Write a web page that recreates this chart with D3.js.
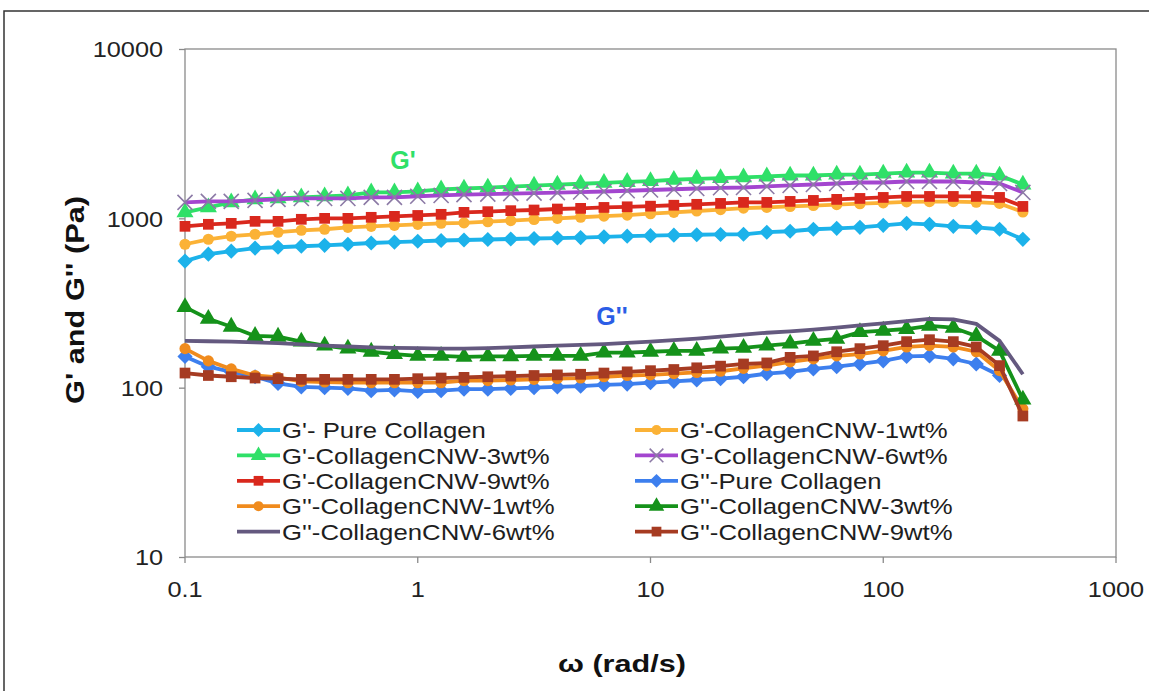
<!doctype html>
<html lang='en'>
<head>
<meta charset='UTF-8'>
<title>G' and G'' vs frequency</title>
<style>
  body { margin: 0; background: #fff; }
  svg { display: block; }
  .tick text { font-family: 'Liberation Sans', Arial, sans-serif; fill: #222; }
</style>
</head>
<body>
<script src='https://d3js.org/d3.v7.min.js'></script>
<script>
  // angular frequency (rad/s)
  const omega = [0.1, 0.126, 0.158, 0.2, 0.251, 0.316, 0.398, 0.501, 0.631, 0.794,
    1, 1.26, 1.58, 2, 2.51, 3.16, 3.98, 5.01, 6.31, 7.94,
    10, 12.6, 15.8, 20, 25.1, 31.6, 39.8, 50.1, 63.1, 79.4,
    100, 126, 158, 200, 251, 316, 398]

  // storage modulus G' (Pa)
  const gpPure = [559, 614, 640, 667, 675, 684, 693, 703, 715, 723, 732, 740, 745, 750, 755, 760, 765, 770, 778, 785,
    790, 795, 800, 803, 805, 828, 839, 862, 873, 885, 909, 934, 922, 897, 885, 862, 752]
  const gp1 = [703, 752, 784, 805, 828, 850, 862, 885, 897, 909, 922, 935, 940, 955, 970, 985, 1000, 1015, 1030, 1045,
    1065, 1085, 1105, 1125, 1150, 1160, 1175, 1190, 1205, 1220, 1235, 1250, 1255, 1255, 1245, 1225, 1090]
  const gp3 = [1085, 1161, 1242, 1294, 1311, 1329, 1347, 1366, 1422, 1422, 1441, 1481, 1500, 1520, 1540, 1560, 1580, 1600, 1620, 1640,
    1660, 1690, 1710, 1730, 1744, 1767, 1790, 1790, 1814, 1814, 1839, 1864, 1864, 1839, 1839, 1790, 1584]
  const gp6 = [1242, 1259, 1259, 1276, 1294, 1311, 1311, 1311, 1329, 1329, 1350, 1365, 1380, 1390, 1400, 1410, 1420, 1430, 1440, 1455,
    1470, 1485, 1500, 1515, 1521, 1543, 1564, 1584, 1606, 1628, 1628, 1650, 1650, 1650, 1628, 1606, 1422]
  const gp9 = [897, 922, 934, 960, 960, 987, 1000, 1000, 1014, 1027, 1040, 1056, 1085, 1095, 1110, 1120, 1135, 1145, 1160, 1170,
    1180, 1195, 1210, 1225, 1242, 1242, 1259, 1276, 1294, 1311, 1329, 1347, 1347, 1347, 1347, 1329, 1176]

  // loss modulus G'' (Pa)
  const gppPure = [153, 133, 124, 116, 106, 101, 100, 99, 96, 97, 95, 96, 98, 98, 99, 100, 101, 102, 104, 105,
    107, 109, 111, 113, 116, 121, 124, 129, 133, 138, 144, 153, 154, 148, 138, 118, null]
  const gpp1 = [170, 144, 129, 118, 115, 109, 108, 107, 107, 107, 107, 107, 110, 110, 111, 112, 113, 114, 116, 118,
    119, 121, 123, 125, 130, 135, 142, 148, 154, 158, 165, 174, 177, 174, 163, 126, 75]
  const gpp3 = [299, 255, 229, 202, 200, 187, 177, 170, 163, 158, 154, 154, 152, 153, 153, 154, 154, 154, 161, 161,
    163, 165, 165, 170, 172, 177, 182, 189, 194, 213, 217, 222, 232, 226, 202, 165, 85]
  const gpp6 = [189, 188, 187, 185, 183, 180, 177, 175, 173, 172, 171, 170, 170, 171, 173, 175, 177, 179, 181, 184,
    187, 191, 195, 200, 206, 211, 215, 220, 226, 233, 240, 247, 255, 253, 238, 189, 120]
  const gpp9 = [122, 118, 116, 114, 113, 112, 112, 112, 112, 112, 113, 114, 115, 116, 117, 118, 119, 120, 122, 124,
    126, 128, 131, 134, 138, 140, 151, 154, 163, 170, 177, 187, 192, 187, 174, 135, 68]

  const names = ["G'- Pure Collagen", "G'-CollagenCNW-1wt%", "G'-CollagenCNW-3wt%", "G'-CollagenCNW-6wt%",
    "G'-CollagenCNW-9wt%", "G''-Pure Collagen", "G''-CollagenCNW-1wt%", "G''-CollagenCNW-3wt%",
    "G''-CollagenCNW-6wt%", "G''-CollagenCNW-9wt%"]
  const yTicks = [10, 100, 1000, 10000]
  const xTicks = [0.1, 1, 10, 100, 1000]

  const series = [
    { name: names[0], values: gpPure, color: '#1cb2ea', marker: 'diamond' },
    { name: names[1], values: gp1, color: '#fbb236', marker: 'circle' },
    { name: names[2], values: gp3, color: '#2fe068', marker: 'triangle' },
    { name: names[3], values: gp6, color: '#a346cf', marker: 'x', mcolor: '#8c7aa6' },
    { name: names[4], values: gp9, color: '#d9281d', marker: 'square' },
    { name: names[5], values: gppPure, color: '#3d7fee', marker: 'diamond' },
    { name: names[6], values: gpp1, color: '#f08b1d', marker: 'circle' },
    { name: names[7], values: gpp3, color: '#15921a', marker: 'triangle' },
    { name: names[8], values: gpp6, color: '#64597f', marker: 'none' },
    { name: names[9], values: gpp9, color: '#a63b22', marker: 'square' }
  ]

  const W = 1149, H = 691
  const pLeft = 185, pRight = 1116, pTop = 49, pBottom = 557
  const font = "'Liberation Sans', Arial, sans-serif"
  const sx = 1.15 // the original picture is a little stretched sideways
  const lsx = 1.12

  const svg = d3.select('body').append('svg')
    .attr('width', W)
    .attr('height', H)

  // outer frame
  svg.append('rect')
    .attr('x', 4).attr('y', 11)
    .attr('width', 1160).attr('height', 700)
    .attr('fill', 'none')
    .attr('stroke', '#333')
    .attr('stroke-width', 1.5)

  const x = d3.scaleLog().domain([0.1, 1000]).range([pLeft, pRight])
  const y = d3.scaleLog().domain([10, 10000]).range([pBottom, pTop])

  // plot box
  svg.append('rect')
    .attr('x', pLeft).attr('y', pTop)
    .attr('width', pRight - pLeft).attr('height', pBottom - pTop)
    .attr('fill', 'none')
    .attr('stroke', '#8a8a8a')
    .attr('stroke-width', 1.3)

  const yAxis = svg.append('g')
    .attr('transform', `translate(${pLeft},0)`)
    .call(d3.axisLeft(y).tickValues(yTicks).tickFormat(d3.format('d')).tickSize(6))
  yAxis.select('.domain').remove()
  yAxis.selectAll('line').attr('stroke', '#8a8a8a').attr('stroke-width', 1.3)
  yAxis.selectAll('text')
    .attr('font-size', 22)
    .attr('x', -22 / sx)
    .attr('dy', '0.36em')
    .attr('transform', `scale(${sx},1)`)

  const xAxis = svg.append('g')
    .attr('transform', `translate(0,${pBottom})`)
    .call(d3.axisBottom(x).tickValues(xTicks).tickFormat(d => d < 1 ? '0.1' : d3.format('d')(d)).tickSize(6))
  xAxis.select('.domain').remove()
  xAxis.selectAll('line').attr('stroke', '#8a8a8a').attr('stroke-width', 1.3)
  // keep x labels centred on their ticks after the horizontal stretch
  xAxis.selectAll('.tick').each(function(d) {
    const g = d3.select(this)
    g.attr('transform', null)
    g.select('line').attr('x1', x(d)).attr('x2', x(d))
    g.select('text')
      .attr('font-size', 22)
      .attr('x', x(d) / sx)
      .attr('y', 40)
      .attr('dy', null)
      .attr('transform', `scale(${sx},1)`)
  })

  const marker = function(sel, s, size) {
    const col = s.mcolor || s.color
    if (s.marker === 'diamond') {
      sel.append('path').attr('d', d3.symbol(d3.symbolSquare, size)()).attr('transform', 'rotate(45)').attr('fill', col)
    } else if (s.marker === 'circle') {
      sel.append('path').attr('d', d3.symbol(d3.symbolCircle, size * 0.85)()).attr('fill', col)
    } else if (s.marker === 'triangle') {
      sel.append('path').attr('d', d3.symbol(d3.symbolTriangle, size * 1.1)()).attr('fill', col)
    } else if (s.marker === 'square') {
      sel.append('path').attr('d', d3.symbol(d3.symbolSquare, size)()).attr('fill', col)
    } else if (s.marker === 'x') {
      sel.append('path').attr('d', d3.symbol(d3.symbolTimes, size * 1.3)()).attr('fill', 'none')
        .attr('stroke', col).attr('stroke-width', 1.6)
    }
  }

  const line = d3.line()
    .defined(d => d[1] != null)
    .x(d => x(d[0]))
    .y(d => y(d[1]))

  series.forEach(s => {
    const pts = omega.map((w, i) => [w, s.values[i]])
    const g = svg.append('g')
    g.append('path')
      .attr('d', line(pts))
      .attr('fill', 'none')
      .attr('stroke', s.color)
      .attr('stroke-width', 3.8)
      .attr('stroke-linejoin', 'round')
    if (s.marker !== 'none') {
      g.selectAll('g.m')
        .data(pts.filter(d => d[1] != null))
        .enter()
        .append('g')
        .attr('class', 'm')
        .attr('transform', d => `translate(${x(d[0])},${y(d[1])})`)
        .each(function() { marker(d3.select(this), s, 115) })
    }
  })

  /********************  legend ******************/
  const legend = svg.append('g')
  series.forEach((s, i) => {
    const col = i % 2
    const row = Math.floor(i / 2)
    const lx = col === 0 ? 237 : 635
    const ly = 430 + row * 25.4
    const g = legend.append('g').attr('transform', `translate(${lx},${ly})`)
    g.append('line')
      .attr('x1', 0).attr('x2', 43)
      .attr('stroke', s.color)
      .attr('stroke-width', 3.8)
    const m = g.append('g').attr('transform', 'translate(21.5,0)')
    marker(m, s, 95)
    g.append('text')
      .attr('x', 45 / lsx)
      .attr('dy', '0.36em')
      .attr('transform', `scale(${lsx},1)`)
      .attr('font-family', font)
      .attr('font-size', 23)
      .attr('fill', '#1e1e1e')
      .text(s.name)
  })

  /********************  annotations & titles ******************/
  svg.append('text')
    .attr('x', 403).attr('y', 169)
    .attr('text-anchor', 'middle')
    .attr('font-family', font)
    .attr('font-weight', 'bold')
    .attr('font-size', 25)
    .attr('fill', '#2fe068')
    .text("G'")

  svg.append('text')
    .attr('x', 612).attr('y', 325)
    .attr('text-anchor', 'middle')
    .attr('font-family', font)
    .attr('font-weight', 'bold')
    .attr('font-size', 25)
    .attr('fill', '#2b5de6')
    .text("G''")

  svg.append('text')
    .attr('transform', 'translate(84,300) rotate(-90)')
    .attr('text-anchor', 'middle')
    .attr('font-family', font)
    .attr('font-weight', 'bold')
    .attr('font-size', 25)
    .attr('textLength', 208)
    .attr('lengthAdjust', 'spacingAndGlyphs')
    .attr('fill', '#111')
    .text("G' and G'' (Pa)")

  svg.append('text')
    .attr('x', 622).attr('y', 672)
    .attr('text-anchor', 'middle')
    .attr('font-family', font)
    .attr('font-weight', 'bold')
    .attr('font-size', 24)
    .attr('textLength', 128)
    .attr('lengthAdjust', 'spacingAndGlyphs')
    .attr('fill', '#111')
    .text('ω (rad/s)')
</script>
</body>
</html>
